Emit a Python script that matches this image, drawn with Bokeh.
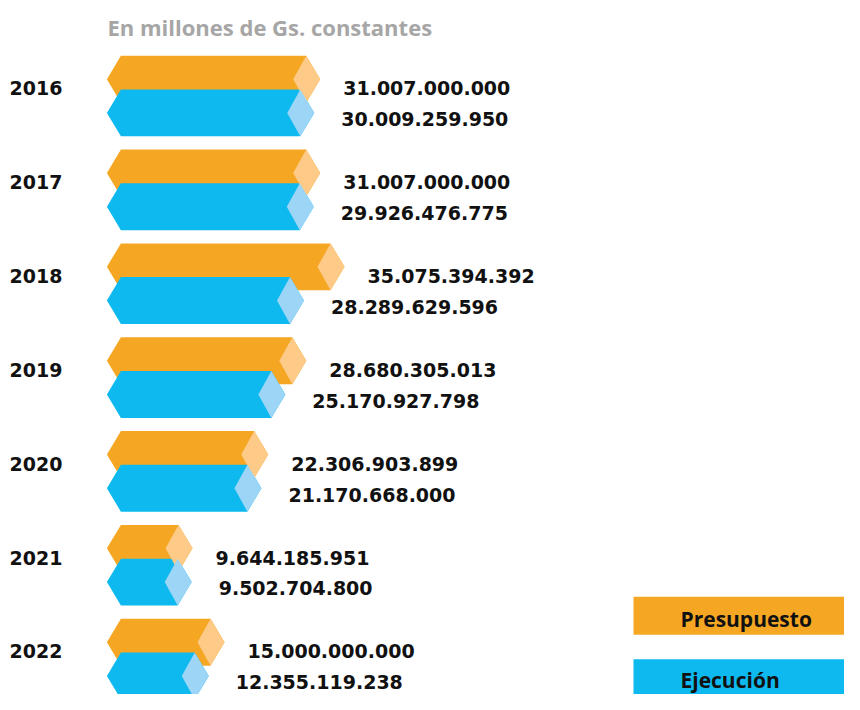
from bokeh.plotting import figure
from bokeh.models import Range1d
from bokeh.embed import file_html
from bokeh.resources import INLINE
from bokeh.core.properties import value

# ---- data ----
years = ["2016", "2017", "2018", "2019", "2020", "2021", "2022"]
presupuesto = [31007000000, 31007000000, 35075394392, 28680305013,
               22306903899, 9644185951, 15000000000]
ejecucion = [30009259950, 29926476775, 28289629596, 25170927798,
             21170668000, 9502704800, 12355119238]
title_text = "En millones de Gs. constantes"
legend_labels = ["Presupuesto", "Ejecución"]

# ---- styling ----
ORANGE = "#F5A724"
ORANGE_L = "#FDCB87"
BLUE = "#0DB9EE"
BLUE_L = "#9DD5F6"

W, H = 844, 694
SY = H / 710.0           # vertical compression to fit the window
K = 0.005977e-6          # pixels per Gs
X0 = 120.4               # pixel of zero value inside the frame


def px(n):               # pixel distance -> data distance
    return n / K


def sy(y):               # layout pixel -> frame pixel (vertical)
    return y * SY


x_start = -X0 / K
x_end = (W - X0) / K

p = figure(width=W, height=H, output_backend="svg", toolbar_location=None,
           x_range=Range1d(x_start, x_end), y_range=Range1d(H, 0),
           min_border=0)
p.axis.visible = False
p.grid.visible = False
p.outline_line_color = None
p.background_fill_color = "white"
p.border_fill_color = "white"


def fmt(v):
    return f"{v:,}".replace(",", ".")


HH = 24      # half bar height (px)
CH = 14      # chevron width (px)
CAPL = 13    # cap inner width (px)


def bar(v, yc):
    top, bot = sy(yc - HH), sy(yc + HH)
    m = sy(yc)
    xs = [-px(CH), 0, v, v + px(CH), v, 0]
    ys = [m, top, top, m, bot, bot]
    cx = [v, v + px(CH), v, v - px(CAPL)]
    cy = [top, m, bot, m]
    return xs, ys, cx, cy


main_xs, main_ys, main_c = [], [], []
cap_xs, cap_ys, cap_c = [], [], []
lab_x, lab_y, lab_t = [], [], []
yr_y = []
for i, yr in enumerate(years):
    otop = 57 + 96 * i
    oc = otop + 23.5
    bc = oc + 34.5
    for v, yc, c1, c2 in ((presupuesto[i], oc, ORANGE, ORANGE_L),
                          (ejecucion[i], bc, BLUE, BLUE_L)):
        xs, ys, cx, cy = bar(v, yc)
        main_xs.append(xs); main_ys.append(ys); main_c.append(c1)
        cap_xs.append(cx); cap_ys.append(cy); cap_c.append(c2)
    lab_x += [presupuesto[i] + px(37), ejecucion[i] + px(41)]
    lab_y += [sy(oc + 9.5), sy(bc + 6.5)]
    lab_t += [fmt(presupuesto[i]), fmt(ejecucion[i])]
    yr_y.append(sy(oc + 9.5))

p.patches(main_xs, main_ys, fill_color=main_c, line_color=None)
p.patches(cap_xs, cap_ys, fill_color=cap_c, line_color=None)

p.text(x=lab_x, y=lab_y, text=lab_t, text_font=value("DejaVu Sans"),
       text_font_style="bold", text_font_size="19px", text_color="#111111",
       text_align="left", text_baseline="middle")

p.text(x=[px(62 - X0)] * len(years), y=yr_y, text=years,
       text_font=value("DejaVu Sans"), text_font_style="bold",
       text_font_size="19px", text_color="#111111",
       text_align="right", text_baseline="middle")

p.text(x=[px(107 - X0)], y=[sy(27)], text=[title_text],
       text_font=value("Open Sans"), text_font_style="bold",
       text_font_size="22px", text_color="#A6A6A6",
       text_align="left", text_baseline="middle")

# legend boxes
p.quad(left=[px(633 - X0)] * 2, right=[x_end] * 2,
       top=[sy(610), sy(674)], bottom=[sy(649), sy(712)],
       fill_color=[ORANGE, BLUE], line_color=None)
p.text(x=[px(680 - X0)] * 2, y=[sy(633), sy(695)], text=legend_labels,
       text_font=value("Open Sans"), text_font_style="bold",
       text_font_size="21px", text_color="#111111",
       text_align="left", text_baseline="middle")

open("out.html", "w").write(file_html(p, INLINE))
